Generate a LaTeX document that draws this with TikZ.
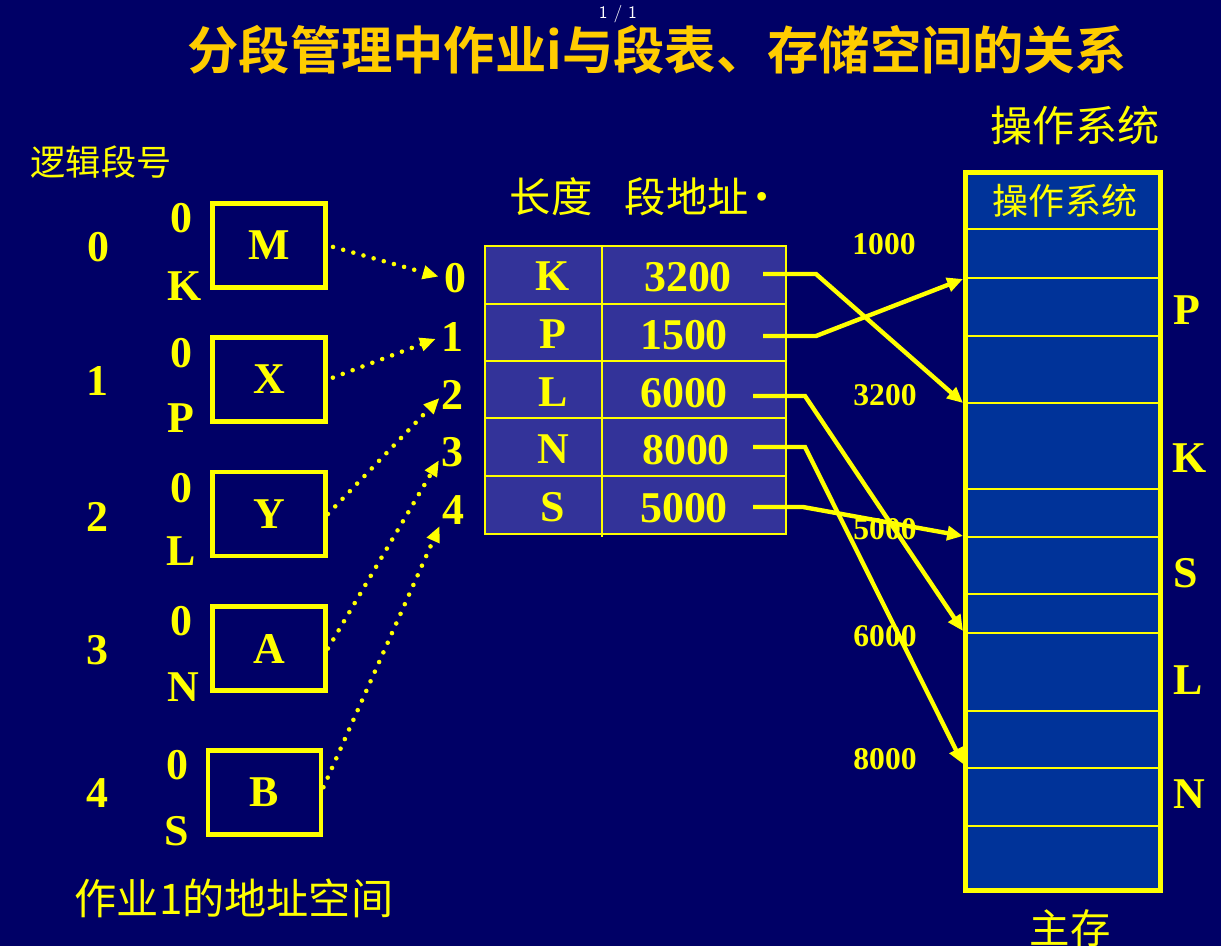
\documentclass[tikz,border=0pt]{standalone}
\usepackage{fontspec}
\setmainfont{Liberation Serif}
\newfontfamily\timesbold{LiberationSerif-Bold.ttf}
\newfontfamily\cjk{Noto Sans CJK SC}
\newfontfamily\cjkbold{Noto Sans CJK SC Bold}
\usetikzlibrary{arrows.meta}
\usetikzlibrary{positioning}

\definecolor{bgnavy}{RGB}{0,0,102}
\definecolor{cellblue}{RGB}{51,51,153}
\definecolor{memblue}{RGB}{0,51,153}
\definecolor{yel}{RGB}{255,255,0}
\definecolor{gold}{RGB}{255,204,0}

\tikzset{
  big/.style={text=yel,inner sep=0pt,font=\timesbold\fontsize{25}{25}\selectfont},
  addr/.style={text=yel,inner sep=0pt,font=\timesbold\fontsize{18}{18}\selectfont},
  hanzi/.style={text=yel,inner sep=0pt,font=\cjk\fontsize{#1}{#1}\selectfont},
  segbox/.style={draw=yel,line width=2.8pt,minimum width=2.26cm,minimum height=1.68cm,big},
  dotarrow/.style={draw=yel,line width=2.6pt,line cap=round,dash pattern=on 0pt off 6pt,-{Triangle[length=9pt,width=7.5pt]}},
  maparrow/.style={draw=yel,line width=2.5pt,-{Triangle[length=9pt,width=8pt]}},
  cellline/.style={draw=yel,line width=0.8pt},
}

\begin{document}
\begin{tikzpicture}[x=0.02cm,y=-0.02cm]
\useasboundingbox (0,0) rectangle (1221,946);
\fill[bgnavy] (0,0) rectangle (1221,946);

% title
\node[text=white,inner sep=0pt,font=\sffamily\fontsize{10}{10}\selectfont] (page) at (618,14) {1 / 1};
\node[text=gold,inner sep=0pt,font=\cjkbold\fontsize{29.2}{29.2}\selectfont] (title) at (657,50) {分段管理中作业i与段表、存储空间的关系};

% job address space
\node[hanzi=20] (lognum) at (101,162) {逻辑段号};
\node[big] (ln0) at (98,247) {0};
\node[big] (ln1) at (97,381) {1};
\node[big] (ln2) at (97,517) {2};
\node[big] (ln3) at (97,650) {3};
\node[big] (ln4) at (97,793) {4};

\node[segbox] (segM) at (269,245.5) {M};
\node[segbox] (segX) at (269,379.5) {X};
\node[segbox] (segY) at (269,514) {Y};
\node[segbox] (segA) at (269,648.5) {A};
\node[segbox] (segB) at (264.5,792.5) {B};

\node[big] (topM) at (181,218) {0};
\node[big] (endM) at (185,286) {K};
\node[big] (topX) at (181,353) {0};
\node[big] (endX) at (181,418) {P};
\node[big] (topY) at (181,488) {0};
\node[big] (endY) at (181,551) {L};
\node[big] (topA) at (181,621) {0};
\node[big] (endA) at (183,687) {N};
\node[big] (topB) at (177,765) {0};
\node[big] (endB) at (177,831) {S};

\node[hanzi=24] (jobspace) at (234,898) {作业1的地址空间};

% segment table
\node[hanzi=23.5] (hlen) at (551,197) {长度};
\node[hanzi=23.5] (hbase) at (704,197) {段地址\kern-4pt•};
\fill[cellblue] (485,246) rectangle (786,534);
\draw[cellline] (485,246) rectangle (786,534);
\draw[cellline] (485,304) -- (786,304);
\draw[cellline] (485,361) -- (786,361);
\draw[cellline] (485,418) -- (786,418);
\draw[cellline] (485,476) -- (786,476);
\draw[yel,line width=1.3pt] (602,246) -- (602,537);

\node[big] (idx0) at (455,278) {0};
\node[big] (idx1) at (452,337) {1};
\node[big] (idx2) at (452,395) {2};
\node[big] (idx3) at (452,452) {3};
\node[big] (idx4) at (453,510) {4};

\node[big] (lenK) at (553,276) {K};
\node[big] (lenP) at (553,334) {P};
\node[big] (lenL) at (553,392) {L};
\node[big] (lenN) at (553,449) {N};
\node[big] (lenS) at (553,507) {S};
\node[big] (b3200) at (688,277) {3200};
\node[big] (b1500) at (684,335) {1500};
\node[big] (b6000) at (684,393) {6000};
\node[big] (b8000) at (686,450) {8000};
\node[big] (b5000) at (684,508) {5000};

\draw[dotarrow,shorten <=3pt,shorten >=3pt] (segM.east) -- (idx0.west);
\draw[dotarrow,shorten <=3pt,shorten >=3pt] (segX.east) -- (idx1.west);
\draw[dotarrow,shorten >=1pt] (segY.east) -- ([yshift=-1pt]idx2.west);
\draw[dotarrow,shorten >=2pt] (segA.east) -- ([yshift=-3pt]idx3.west);
\draw[dotarrow,shorten >=3pt] ([yshift=3pt]segB.east) -- ([yshift=2pt]idx4.south west);

% main memory
\node[hanzi=24] (oshead) at (1075,125) {操作系统};
\draw[fill=memblue,draw=yel,line width=2.8pt] (965.5,172.5) rectangle (1160.5,890.5);
\draw[cellline] (965,229) -- (1161,229);
\draw[cellline] (965,278) -- (1161,278);
\draw[cellline] (965,336) -- (1161,336);
\draw[cellline] (965,403) -- (1161,403);
\draw[cellline] (965,489) -- (1161,489);
\draw[cellline] (965,537) -- (1161,537);
\draw[cellline] (965,594) -- (1161,594);
\draw[cellline] (965,633) -- (1161,633);
\draw[cellline] (965,711) -- (1161,711);
\draw[cellline] (965,768) -- (1161,768);
\draw[cellline] (965,826) -- (1161,826);
\node[hanzi=20.5] (osbox) at (1065,201) {操作系统};
\node[hanzi=23] (mainmem) at (1070,928) {主存};

\node[addr] (m1000) at (884,244) {1000};
\node[addr] (m3200) at (885,395) {3200};
\node[addr] (m5000) at (885,529) {5000};
\node[addr] (m6000) at (885,636) {6000};
\node[addr] (m8000) at (885,759) {8000};

\node[big] (memP) at (1187,310) {P};
\node[big] (memK) at (1190,458) {K};
\node[big] (memS) at (1186,573) {S};
\node[big] (memL) at (1188,680) {L};
\node[big] (memN) at (1189,794) {N};

\coordinate (s3200) at (763,274);
\coordinate (s1500) at (763,336);
\coordinate (s6000) at (753,396);
\coordinate (s8000) at (753,447);
\coordinate (s5000) at (753,507);
\coordinate (a1000) at (963,279);
\coordinate (a3200) at (963,403);
\coordinate (a5000) at (963,536);
\coordinate (a6000) at (963,631);
\coordinate (a8000) at (963,764);

\draw[maparrow] (s3200) -- ++(53,0) -- (a3200);
\draw[maparrow] (s1500) -- ++(53,0) -- (a1000);
\draw[maparrow] (s6000) -- ++(52,0) -- (a6000);
\draw[maparrow] (s8000) -- ++(52,0) -- (a8000);
\draw[maparrow] (s5000) -- ++(50,0) -- (a5000);

\end{tikzpicture}
\end{document}
